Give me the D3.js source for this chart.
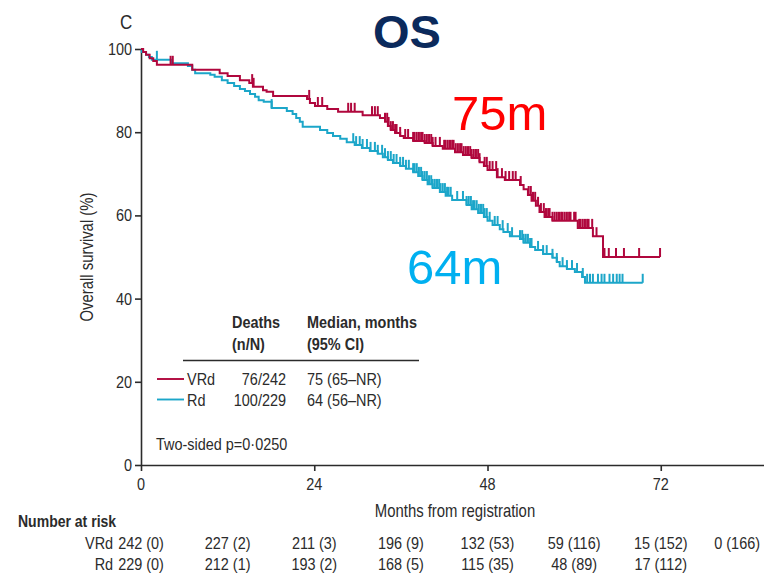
<!DOCTYPE html>
<html>
<head>
<meta charset="utf-8">
<script src="https://cdn.jsdelivr.net/npm/d3@7"></script>
<style>
  html, body { margin: 0; padding: 0; background: #fff; }
  svg { display: block; }
</style>
</head>
<body>
<svg id="chart" width="764" height="574"></svg>
<script>
// ---- Kaplan–Meier data: step times (months) and survival (%) after each step ----
const vrdStepMonths = [0, 0.3, 0.7, 1.2, 1.7, 2.2, 7.1, 10.9, 12.0, 13.7, 15.0, 15.5, 16.9, 17.4, 18.3,
  23.0, 23.4, 24.1, 25.8, 27.3, 30.7, 33.1, 33.8, 34.2, 34.6, 35.2, 35.9, 36.4, 37.7, 39.3, 40.4,
  41.8, 43.5, 44.6, 45.8, 46.9, 47.5, 48.0, 49.3, 50.4, 52.5, 53.0, 53.6, 54.1, 54.7, 55.2, 55.9,
  57.0, 60.5, 62.6, 64.0];
const vrdStepSurv = [100, 99.3, 98.6, 97.8, 97.1, 96.2, 95.0, 94.2, 93.5, 92.5, 91.8, 90.9, 90.1, 89.7, 88.7,
  88.0, 87.0, 86.3, 85.6, 84.9, 84.1, 83.4, 82.5, 81.5, 80.5, 79.8, 79.1, 78.6, 77.9, 77.4, 76.7,
  76.0, 75.2, 74.5, 73.8, 72.8, 71.9, 70.9, 69.2, 68.5, 67.3, 66.3, 64.9, 63.5, 62.3, 60.8, 59.6,
  58.7, 57.0, 55.0, 50.0];
const vrdLastMonth = 71.9;
const vrdCensorMonths = [4.1, 4.4, 15.4, 15.6, 23.3, 24.5, 25.1, 28.7, 29.1, 29.6, 32.0, 32.4, 32.8,
  33.8, 34.1, 34.3, 34.6, 34.9, 35.2, 35.4, 35.9, 36.6, 37.0, 37.7, 37.9, 38.2, 38.5, 38.8, 39.0,
  39.3, 39.6, 39.9, 40.2, 40.4, 40.8, 41.4, 42.0, 42.2, 42.5, 42.8, 43.1, 43.3, 43.6, 43.9, 44.2,
  44.4, 44.7, 45.0, 45.3, 45.6, 45.8, 46.1, 46.4, 46.7, 46.9, 47.6, 47.9, 48.3, 48.7, 49.2, 49.4,
  50.0, 50.5, 51.0, 51.5, 51.9, 52.6, 53.7, 54.0, 54.3, 54.6, 55.0, 55.4, 55.8, 56.1, 56.4, 56.6,
  57.0, 57.3, 57.6, 57.9, 58.2, 58.4, 58.7, 59.0, 59.3, 59.5, 60.0, 60.2, 60.7, 60.9, 61.2, 61.5,
  61.8, 62.0, 62.5, 63.1, 64.2, 64.8, 65.8, 66.9, 69.0, 71.9];

const rdStepMonths = [0, 0.1, 0.7, 1.1, 1.5, 4.2, 6.5, 7.1, 7.5, 9.6, 10.2, 11.2, 12.0, 12.9, 13.7,
  14.4, 15.1, 15.8, 16.3, 17.0, 18.1, 20.2, 21.0, 21.5, 22.0, 22.4, 24.8, 25.8, 26.6, 27.6, 28.5,
  29.6, 30.6, 31.7, 32.8, 33.5, 34.2, 34.9, 35.9, 36.7, 37.7, 38.4, 39.0, 39.7, 40.4, 41.4, 42.2,
  43.1, 45.1, 45.8, 46.7, 47.5, 48.0, 48.7, 49.7, 50.2, 51.1, 52.5, 53.0, 53.9, 54.6, 55.7, 57.0,
  57.6, 58.0, 59.0, 60.1, 61.1, 61.5];
const rdStepSurv = [100, 99.3, 98.6, 98.1, 97.4, 96.6, 95.9, 95.0, 94.2, 93.8, 93.3, 92.5, 91.8, 91.1, 90.4,
  89.9, 89.2, 88.5, 87.7, 87.3, 85.8, 85.1, 84.4, 83.4, 82.5, 81.3, 80.5, 79.8, 79.1, 78.4, 77.6,
  76.9, 76.2, 75.5, 74.8, 74.0, 73.3, 72.6, 71.9, 71.2, 70.4, 69.5, 68.5, 67.5, 66.6, 65.6, 64.7,
  63.7, 62.5, 61.5, 60.6, 59.6, 58.7, 57.7, 56.7, 56.0, 55.0, 54.3, 53.4, 52.4, 51.7, 50.7, 49.8,
  48.8, 47.8, 47.1, 46.4, 45.2, 43.8];
const rdLastMonth = 69.5;
const rdCensorMonths = [2.2, 18.1, 29.4, 29.8, 30.3, 30.7, 31.3, 31.8, 32.4, 32.8, 33.4, 33.8, 34.2,
  34.6, 35.0, 35.4, 35.9, 36.3, 36.7, 37.1, 37.7, 37.9, 38.2, 38.5, 38.8, 39.0, 39.3, 39.6, 39.9,
  40.2, 40.4, 40.7, 41.0, 41.3, 41.5, 41.8, 42.1, 42.4, 42.6, 42.9, 43.8, 44.6, 45.1, 45.4, 45.7,
  46.0, 46.2, 46.5, 46.8, 47.1, 47.4, 47.6, 47.9, 48.3, 49.0, 49.4, 50.1, 50.8, 51.4, 52.5, 52.8,
  53.0, 53.3, 53.6, 53.9, 54.1, 55.0, 55.7, 56.2, 57.0, 57.6, 58.4, 59.0, 59.7, 60.4, 61.2, 61.8,
  62.2, 62.6, 63.3, 63.8, 64.2, 64.9, 65.4, 65.9, 66.3, 66.7, 69.5];

// ---- Axes ----
const xTicks = [0, 24, 48, 72];
const yTicks = [0, 20, 40, 60, 80, 100];

// ---- Number at risk (censored) ----
const riskMonths = [0, 12, 24, 36, 48, 60, 72, 84];
const vrdAtRisk = [242, 227, 211, 196, 132, 59, 15, 0];
const vrdCensored = [0, 2, 3, 9, 53, 116, 152, 166];
const rdAtRisk = [229, 212, 193, 168, 115, 48, 17];
const rdCensored = [0, 1, 2, 5, 35, 89, 112];

// ---- Legend table ----
const armNames = ["VRd", "Rd"];
const armDeaths = ["76/242", "100/229"];
const armMedians = ["75 (65–NR)", "64 (56–NR)"];
const medianCallouts = ["75m", "64m"];

const COL_VRD = "#b0073d";
const COL_RD = "#1ca6c9";
const INK = "#2b2b2b";
const FONT = '"Liberation Sans", Arial, sans-serif';
const NARROW = 0.85;   // horizontal squeeze for the condensed journal typeface

const svg = d3.select("#chart");
const x = d3.scaleLinear().domain([0, 86.3]).range([141, 764]);
const y = d3.scaleLinear().domain([0, 100]).range([465, 49]);

// Text helper: text placed via a transform so it can be condensed horizontally
function txt(str, px, py, opts = {}) {
  const sx = opts.sx == null ? NARROW : opts.sx;
  const rot = opts.rotate ? ` rotate(${opts.rotate})` : "";
  return svg.append("text")
    .attr("x", 0).attr("y", 0)
    .attr("transform", `translate(${px},${py})${rot} scale(${sx},1)`)
    .attr("text-anchor", opts.anchor || "start")
    .attr("fill", opts.fill || INK)
    .style("font-family", opts.family || FONT)
    .style("font-size", (opts.size || 17) + "px")
    .style("font-weight", opts.weight || "normal")
    .text(str);
}

// y axis (labels drawn separately so they can be condensed)
const yAxis = svg.append("g")
  .attr("transform", `translate(${x(0)},0)`)
  .call(d3.axisLeft(y).tickValues(yTicks).tickSize(6).tickSizeOuter(0).tickFormat(""));
// x axis
const xAxis = svg.append("g")
  .attr("transform", `translate(0,${y(0)})`)
  .call(d3.axisBottom(x).tickValues(xTicks).tickSize(6).tickSizeOuter(0).tickFormat(""));
[yAxis, xAxis].forEach(g => {
  g.select(".domain").attr("stroke", INK).attr("stroke-width", 1.6);
  g.selectAll(".tick line").attr("stroke", INK).attr("stroke-width", 1.6);
});
yTicks.forEach(v => txt(String(v), x(0) - 9, y(v) + 6, { anchor: "end" }));
xTicks.forEach(v => txt(String(v), x(v), y(0) + 25, { anchor: "middle" }));

// KM curves with upward censor ticks
function drawArm(months, surv, lastMonth, censor, color) {
  const pts = months.map((m, i) => [m, surv[i]]);
  pts.push([lastMonth, surv[surv.length - 1]]);
  const line = d3.line().x(d => x(d[0])).y(d => y(d[1])).curve(d3.curveStepAfter);
  svg.append("path").datum(pts)
    .attr("d", line).attr("fill", "none")
    .attr("stroke", color).attr("stroke-width", 2);
  const survAt = t => {
    let s = surv[0];
    for (let i = 0; i < months.length; i++) if (months[i] <= t) s = surv[i];
    return s;
  };
  svg.append("g").selectAll("line").data(censor).join("line")
    .attr("x1", d => x(d)).attr("x2", d => x(d))
    .attr("y1", d => y(survAt(d))).attr("y2", d => y(survAt(d)) - 9)
    .attr("stroke", color).attr("stroke-width", 2);
}
drawArm(rdStepMonths, rdStepSurv, rdLastMonth, rdCensorMonths, COL_RD);
drawArm(vrdStepMonths, vrdStepSurv, vrdLastMonth, vrdCensorMonths, COL_VRD);

// Panel letter and title
txt("C", 120, 29, { size: 20 });
txt("OS", 407, 48, { anchor: "middle", size: 47, weight: "bold", fill: "#0b2a5c", sx: 1 });

// Median callouts
txt(medianCallouts[0], 452, 130, { size: 49, fill: "#ff0000", sx: 1 });
txt(medianCallouts[1], 407, 284, { size: 49, fill: "#00b0f0", sx: 1 });

// Axis titles
txt("Overall survival (%)", 93, 257, { anchor: "middle", size: 17.5, rotate: -90 });
txt("Months from registration", 455, 517, { anchor: "middle", size: 17.5 });

// Legend table
txt("Deaths", 232, 328, { weight: "bold" });
txt("(n/N)", 232, 350, { weight: "bold" });
txt("Median, months", 307, 328, { weight: "bold" });
txt("(95% CI)", 307, 350, { weight: "bold" });
svg.append("line").attr("x1", 183).attr("x2", 419).attr("y1", 360.5).attr("y2", 360.5)
  .attr("stroke", INK).attr("stroke-width", 1.6);
[COL_VRD, COL_RD].forEach((c, i) => {
  const ly = 379 + i * 20.5;
  svg.append("line").attr("x1", 157).attr("x2", 184).attr("y1", ly).attr("y2", ly)
    .attr("stroke", c).attr("stroke-width", 1.9);
  txt(armNames[i], 187, ly + 6);
  txt(armDeaths[i], 286, ly + 6, { anchor: "end" });
  txt(armMedians[i], 307, ly + 6);
});
txt("Two-sided p=0·0250", 156, 450);

// Number at risk
txt("Number at risk", 18, 527, { weight: "bold", size: 16.5 });
function riskRow(name, atRisk, censored, py) {
  atRisk.forEach((n, i) => {
    const cx = x(riskMonths[i]);
    const t = txt(`${n} (${censored[i]})`, cx, py, { anchor: "middle" });
    const w = t.node().getComputedTextLength() * NARROW;
    if (cx + w / 2 > 760) t.attr("text-anchor", "end").attr("transform", `translate(760,${py}) scale(${NARROW},1)`);
    if (i === 0) txt(name, cx - w / 2 - 5, py, { anchor: "end" });
  });
}
riskRow(armNames[0], vrdAtRisk, vrdCensored, 549);
riskRow(armNames[1], rdAtRisk, rdCensored, 570);
</script>
</body>
</html>
